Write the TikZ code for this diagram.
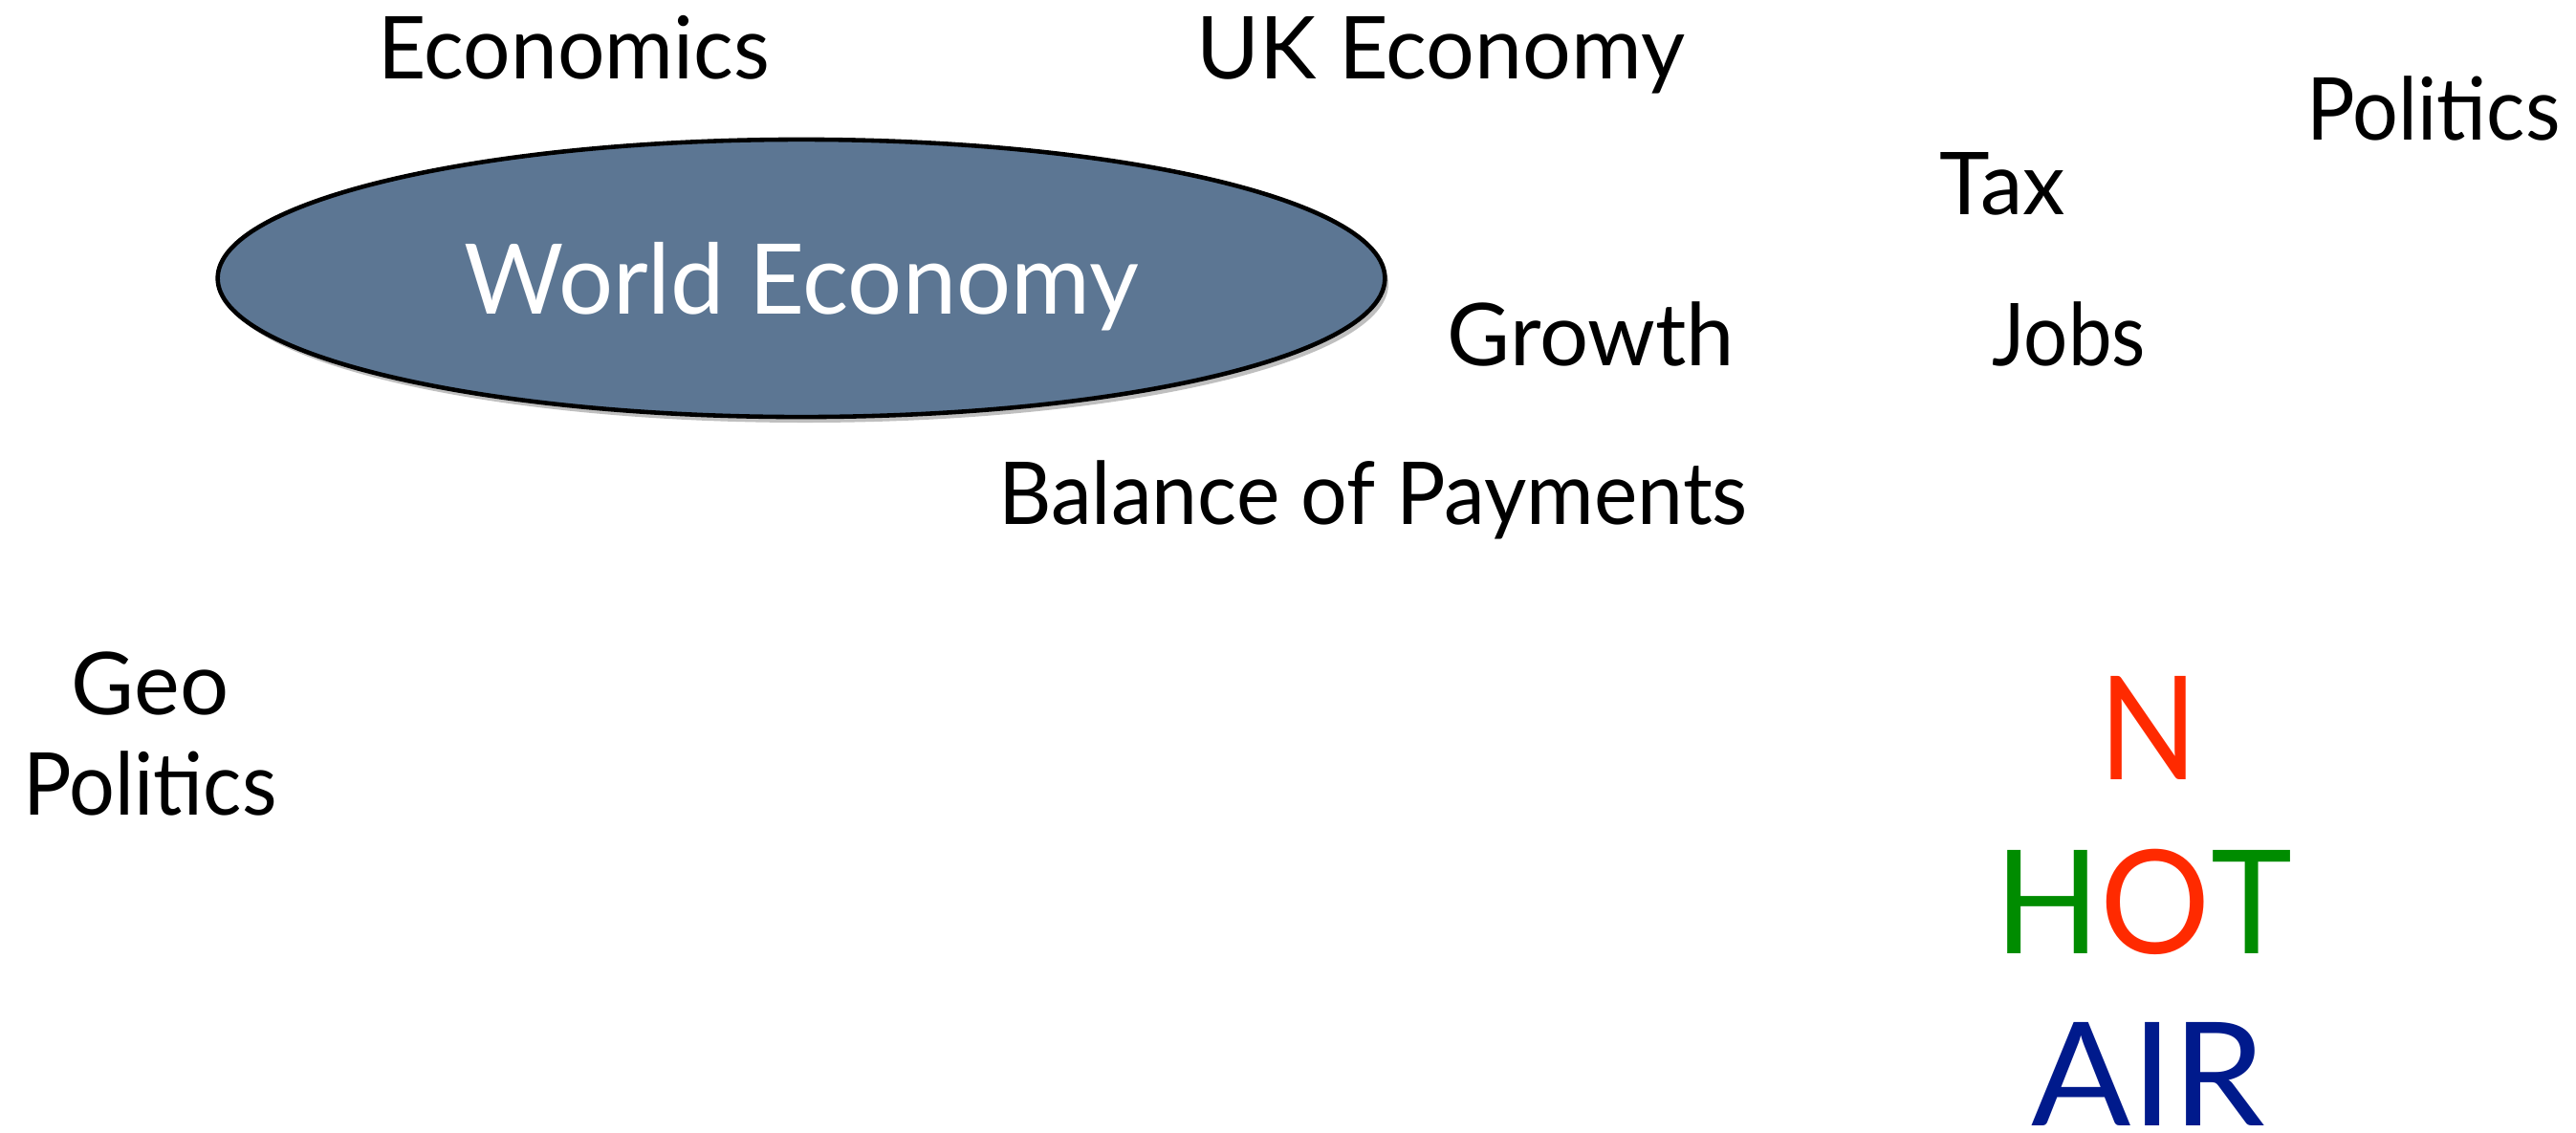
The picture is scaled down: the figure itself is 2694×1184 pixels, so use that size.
\documentclass[tikz,border=0pt]{standalone}
\usepackage{fontspec}
\setmainfont{Lato}
\usetikzlibrary{shapes.geometric}
\definecolor{ellfill}{RGB}{92,118,147}
\definecolor{hotred}{RGB}{255,42,0}
\definecolor{hotgreen}{RGB}{0,140,0}
\definecolor{hotblue}{RGB}{0,26,140}
\newsavebox\fitbox
\newcommand\fitw[2]{\sbox\fitbox{#2}\pgfmathsetmacro\fitrat{#1*0.28453/\the\wd\fitbox}\scalebox{\fitrat}[1]{\usebox\fitbox}}
\tikzset{
  lbl/.style={anchor=base, inner sep=0pt, outer sep=0pt, font=\fontsize{25.8}{30}\selectfont},
  big/.style={anchor=base, inner sep=0pt, outer sep=0pt, font=\fontsize{42.9}{50}\selectfont},
  world/.style={ellipse, draw=black, line width=1.3pt, fill=ellfill, inner sep=0pt,
     minimum width=12.2cm, minimum height=2.9cm}
}
\begin{document}
\begin{tikzpicture}[x=0.01cm, y=-0.01cm]
\useasboundingbox[fill=white] (0,0) rectangle (2694,1184);
% shadow
\fill[black!25] (842,297) ellipse [x radius=610, y radius=145];
\node[world] (we) at (838,291) {};
\node[anchor=base, inner sep=0pt, text=white, font=\fontsize{29}{34}\selectfont] (wet) at (838,328) {\fitw{705}{World Economy}};
\node[lbl] (econ) at (600,82) {\fitw{409}{Economics}};
\node[lbl] (uk) at (1507,82) {\fitw{510}{UK Economy}};
\node[lbl] (pol) at (2545,146) {\fitw{265}{Politics}};
\node[lbl] (tax) at (2094,224) {\fitw{131}{Tax}};
\node[lbl] (growth) at (1664,382) {\fitw{300}{Growth}};
\node[lbl] (jobs) at (2164,382) {\fitw{160}{Jobs}};
\node[lbl] (bop) at (1436,548) {\fitw{783}{Balance of Payments}};
\node[lbl] (geo) at (157,747) {\fitw{164}{Geo}};
\node[lbl] (geopol) at (157,852) {\fitw{265}{Politics}};
\node[big, text=hotred] (n) at (2247,815) {\fitw{103}{N}};
\node[big] (hot) at (2242,997) {\fitw{310}{\textcolor{hotgreen}{H}\textcolor{hotred}{O}\textcolor{hotgreen}{T}}};
\node[big, text=hotblue] (air) at (2247,1177) {\fitw{244}{AIR}};
\end{tikzpicture}
\end{document}
